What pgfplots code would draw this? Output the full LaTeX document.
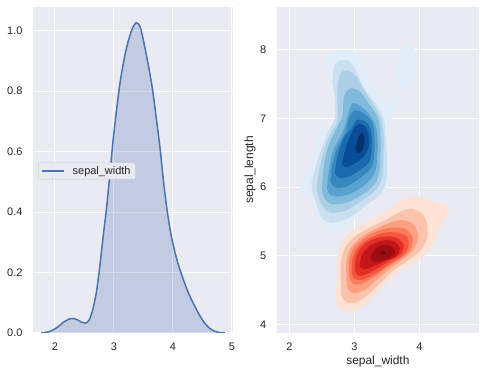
\documentclass[border=0pt]{standalone}
\usepackage{pgfplots}
\pgfplotsset{compat=1.18}
\usepackage{pgfplotstable}
\usepackage{fontspec}
\setmainfont{Liberation Sans}

\definecolor{bgc}{RGB}{234,234,242}
\definecolor{tc}{RGB}{38,38,38}
\definecolor{kde}{RGB}{76,114,176}
\definecolor{lg}{RGB}{204,204,204}
\definecolor{b1}{RGB}{225,237,248}
\definecolor{b2}{RGB}{203,223,241}
\definecolor{b3}{RGB}{171,208,230}
\definecolor{b4}{RGB}{130,186,219}
\definecolor{b5}{RGB}{89,162,207}
\definecolor{b6}{RGB}{55,135,192}
\definecolor{b7}{RGB}{27,106,175}
\definecolor{b8}{RGB}{8,77,151}
\definecolor{b9}{RGB}{8,48,107}
\definecolor{r1}{RGB}{254,226,213}
\definecolor{r2}{RGB}{252,195,172}
\definecolor{r3}{RGB}{252,160,130}
\definecolor{r4}{RGB}{251,124,92}
\definecolor{r5}{RGB}{246,85,61}
\definecolor{r6}{RGB}{227,47,39}
\definecolor{r7}{RGB}{195,22,27}
\definecolor{r8}{RGB}{158,13,20}
\definecolor{r9}{RGB}{103,0,13}

\pgfplotstableread{
x y
1.77 0
1.85 0.002
1.95 0.008
2.05 0.020
2.15 0.036
2.25 0.047
2.30 0.048
2.38 0.044
2.45 0.036
2.52 0.033
2.58 0.042
2.64 0.075
2.70 0.130
2.75 0.200
2.82 0.320
2.88 0.420
2.95 0.560
3.00 0.660
3.10 0.820
3.20 0.930
3.30 1.000
3.38 1.026
3.45 1.010
3.52 0.950
3.60 0.870
3.66 0.800
3.74 0.680
3.79 0.600
3.84 0.505
3.90 0.410
3.96 0.335
4.02 0.280
4.08 0.235
4.14 0.198
4.20 0.165
4.27 0.130
4.35 0.097
4.45 0.060
4.55 0.030
4.65 0.012
4.75 0.003
4.88 0.000
}\kdetable

\pgfplotsset{
  sbstyle/.style={
    scale only axis,
    anchor=south west,
    axis background/.style={fill=bgc},
    axis line style={draw=none},
    tick style={draw=none},
    major tick length=0pt,
    grid=major,
    grid style={white, line width=1bp},
    tick label style={font=\fontsize{11}{13}\selectfont, text=tc},
    /pgf/number format/assume math mode=true,
    xticklabel style={yshift=-6bp},
    yticklabel style={xshift=-7bp},
    label style={font=\fontsize{12}{14}\selectfont, text=tc},
  },
  cont/.style={draw=none, smooth, forget plot},
}

\begin{document}
\begin{tikzpicture}
\useasboundingbox (0,0) rectangle (485bp,374bp);

\begin{axis}[sbstyle,
  at={(33bp,41bp)}, width=200bp, height=326bp,
  xmin=1.63, xmax=5.02, ymin=0, ymax=1.078,
  xtick={2,3,4,5}, ytick={0,0.2,0.4,0.6,0.8,1.0},
  yticklabel style={/pgf/number format/.cd, fixed, fixed zerofill, precision=1},
  legend style={at={(axis description cs:0.025,0.497)}, anchor=west,
    draw=lg, fill=bgc, rounded corners=2bp, font=\fontsize{11}{13}\selectfont,
    text=tc, inner xsep=3bp, inner ysep=1.5bp},
  legend cell align=left,
  legend image code/.code={\draw[#1] (0bp,0bp) -- (22bp,0bp); \path (28bp,0bp);},
]
\addplot[draw=none, fill=kde, fill opacity=0.25, smooth, forget plot] table[x=x,y=y] {\kdetable} \closedcycle;
\addplot[color=kde, line width=1.5bp, smooth] table[x=x,y=y] {\kdetable};
\addlegendentry{sepal\_width}
\end{axis}

\begin{axis}[sbstyle,
  at={(276.7bp,41bp)}, width=202.3bp, height=326bp,
  xmin=1.806, xmax=4.918, ymin=3.873, ymax=8.627,
  xtick={2,3,4}, ytick={4,5,6,7,8},
  xlabel={sepal\_width}, ylabel={sepal\_length},
  xlabel style={at={(axis description cs:0.5,-0.086)}, anchor=center},
  ylabel style={at={(axis description cs:-0.132,0.5)}, anchor=center},
]
% Blues
\addplot[cont, fill=b1] coordinates {(2.16,6.01)(2.24,6.20)(2.34,6.35)(2.41,6.64)(2.47,6.81)(2.58,6.88)(2.70,6.93)(2.73,7.08)(2.72,7.27)(2.65,7.47)(2.56,7.66)(2.53,7.83)(2.60,7.95)(2.78,8.00)(2.98,7.98)(3.10,7.88)(3.19,7.68)(3.28,7.51)(3.38,7.36)(3.47,7.22)(3.55,7.22)(3.61,7.34)(3.66,7.26)(3.61,7.10)(3.55,6.95)(3.54,6.70)(3.56,6.40)(3.56,6.12)(3.46,5.95)(3.29,5.85)(3.14,5.76)(3.04,5.60)(2.91,5.45)(2.75,5.34)(2.62,5.34)(2.50,5.44)(2.41,5.62)(2.33,5.78)(2.22,5.87)(2.15,5.96)(2.16,6.01)};
\addplot[cont, fill=b1] coordinates {(3.80,8.09)(3.90,8.03)(3.95,7.90)(3.94,7.72)(3.90,7.55)(3.82,7.44)(3.72,7.43)(3.66,7.52)(3.65,7.70)(3.67,7.88)(3.72,8.03)(3.80,8.09)};
\addplot[cont, fill=b2] coordinates {(2.34,6.06)(2.42,6.35)(2.52,6.62)(2.62,6.85)(2.70,7.0)(2.70,7.3)(2.66,7.55)(2.70,7.78)(2.80,7.86)(2.92,7.84)(3.02,7.70)(3.12,7.50)(3.24,7.32)(3.36,7.18)(3.45,7.0)(3.48,6.75)(3.50,6.45)(3.50,6.15)(3.42,5.92)(3.22,5.76)(3.02,5.62)(2.85,5.52)(2.65,5.48)(2.50,5.55)(2.42,5.75)(2.36,5.92)(2.34,6.06)};
\addplot[cont, fill=b3] coordinates {(2.42,6.0)(2.47,6.30)(2.56,6.62)(2.66,6.82)(2.74,6.98)(2.74,7.40)(2.78,7.65)(2.90,7.70)(3.04,7.60)(3.14,7.42)(3.28,7.22)(3.40,7.02)(3.45,6.75)(3.45,6.45)(3.43,6.15)(3.32,5.95)(3.08,5.78)(2.85,5.65)(2.62,5.63)(2.50,5.74)(2.44,5.88)(2.42,6.0)};
\addplot[cont, fill=b4] coordinates {(2.50,5.96)(2.53,6.30)(2.61,6.62)(2.75,6.90)(2.82,7.05)(2.84,7.32)(2.93,7.44)(3.08,7.40)(3.22,7.22)(3.36,7.02)(3.40,6.75)(3.40,6.45)(3.36,6.12)(3.18,5.93)(2.90,5.78)(2.66,5.75)(2.54,5.84)(2.50,5.96)};
\addplot[cont, fill=b5] coordinates {(2.58,5.98)(2.61,6.25)(2.68,6.55)(2.82,6.80)(2.90,7.05)(2.97,7.22)(3.10,7.18)(3.24,7.05)(3.34,6.85)(3.36,6.55)(3.32,6.22)(3.16,6.03)(2.93,5.90)(2.72,5.86)(2.62,5.90)(2.58,5.98)};
\addplot[cont, fill=b6] coordinates {(2.63,6.10)(2.66,6.32)(2.74,6.58)(2.86,6.79)(2.92,7.02)(3.01,7.12)(3.14,7.08)(3.27,6.95)(3.31,6.75)(3.31,6.52)(3.27,6.30)(3.10,6.14)(2.90,6.02)(2.74,5.99)(2.66,6.03)(2.63,6.10)};
\addplot[cont, fill=b7] coordinates {(2.70,6.20)(2.74,6.45)(2.84,6.72)(2.95,6.85)(3.04,6.98)(3.16,6.96)(3.25,6.85)(3.27,6.62)(3.24,6.38)(3.10,6.26)(2.93,6.16)(2.78,6.13)(2.70,6.20)};
\addplot[cont, fill=b8] coordinates {(2.81,6.35)(2.86,6.54)(2.96,6.80)(3.06,6.92)(3.17,6.88)(3.22,6.75)(3.22,6.58)(3.13,6.43)(2.98,6.33)(2.86,6.29)(2.81,6.35)};
\addplot[cont, fill=b9] coordinates {(3.02,6.58)(3.07,6.74)(3.13,6.80)(3.16,6.70)(3.13,6.55)(3.05,6.49)(3.02,6.58)};
% Reds
\addplot[cont, fill=r1] coordinates {(2.73,4.84)(2.73,4.94)(2.78,5.14)(2.93,5.33)(3.19,5.48)(3.45,5.62)(3.70,5.79)(3.86,5.86)(4.04,5.86)(4.16,5.79)(4.32,5.77)(4.43,5.72)(4.46,5.65)(4.39,5.52)(4.29,5.38)(4.24,5.23)(4.16,5.09)(4.04,4.97)(3.81,4.84)(3.60,4.70)(3.39,4.50)(3.19,4.31)(3.01,4.19)(2.83,4.19)(2.73,4.29)(2.72,4.46)(2.74,4.65)(2.73,4.84)};
\addplot[cont, fill=r2] coordinates {(2.80,4.55)(2.79,4.85)(2.84,5.08)(2.98,5.26)(3.22,5.40)(3.48,5.52)(3.70,5.64)(3.88,5.68)(4.04,5.62)(4.12,5.46)(4.12,5.26)(4.02,5.08)(3.84,4.94)(3.62,4.80)(3.42,4.62)(3.22,4.44)(3.04,4.32)(2.88,4.32)(2.80,4.42)(2.80,4.55)};
\addplot[cont, fill=r3] coordinates {(2.88,4.62)(2.88,4.92)(2.95,5.12)(3.12,5.28)(3.35,5.40)(3.55,5.48)(3.75,5.52)(3.92,5.45)(3.98,5.28)(3.92,5.10)(3.76,4.96)(3.56,4.82)(3.36,4.66)(3.16,4.50)(3.00,4.45)(2.91,4.50)(2.88,4.62)};
\addplot[cont, fill=r4] coordinates {(2.92,4.69)(2.92,4.93)(3.00,5.12)(3.17,5.27)(3.38,5.37)(3.59,5.41)(3.79,5.39)(3.90,5.26)(3.86,5.08)(3.71,4.96)(3.50,4.83)(3.30,4.69)(3.11,4.59)(2.98,4.59)(2.92,4.69)};
\addplot[cont, fill=r5] coordinates {(2.96,4.74)(2.97,4.94)(3.06,5.13)(3.23,5.25)(3.44,5.33)(3.63,5.34)(3.81,5.28)(3.83,5.13)(3.74,5.00)(3.56,4.89)(3.34,4.75)(3.13,4.65)(3.01,4.66)(2.96,4.74)};
\addplot[cont, fill=r6] coordinates {(3.01,4.78)(3.02,4.96)(3.11,5.13)(3.29,5.24)(3.49,5.28)(3.66,5.26)(3.76,5.15)(3.71,5.02)(3.53,4.92)(3.33,4.80)(3.13,4.71)(3.05,4.72)(3.01,4.78)};
\addplot[cont, fill=r7] coordinates {(3.08,4.85)(3.12,5.02)(3.25,5.15)(3.44,5.22)(3.61,5.21)(3.70,5.11)(3.64,4.99)(3.46,4.92)(3.28,4.84)(3.14,4.80)(3.08,4.85)};
\addplot[cont, fill=r8] coordinates {(3.25,4.97)(3.30,5.08)(3.42,5.15)(3.57,5.14)(3.62,5.05)(3.55,4.97)(3.40,4.92)(3.28,4.92)(3.25,4.97)};
\addplot[cont, fill=r9] coordinates {(3.41,5.04)(3.44,5.07)(3.48,5.06)(3.48,5.03)(3.44,5.02)(3.41,5.04)};
\end{axis}
\end{tikzpicture}
\end{document}
